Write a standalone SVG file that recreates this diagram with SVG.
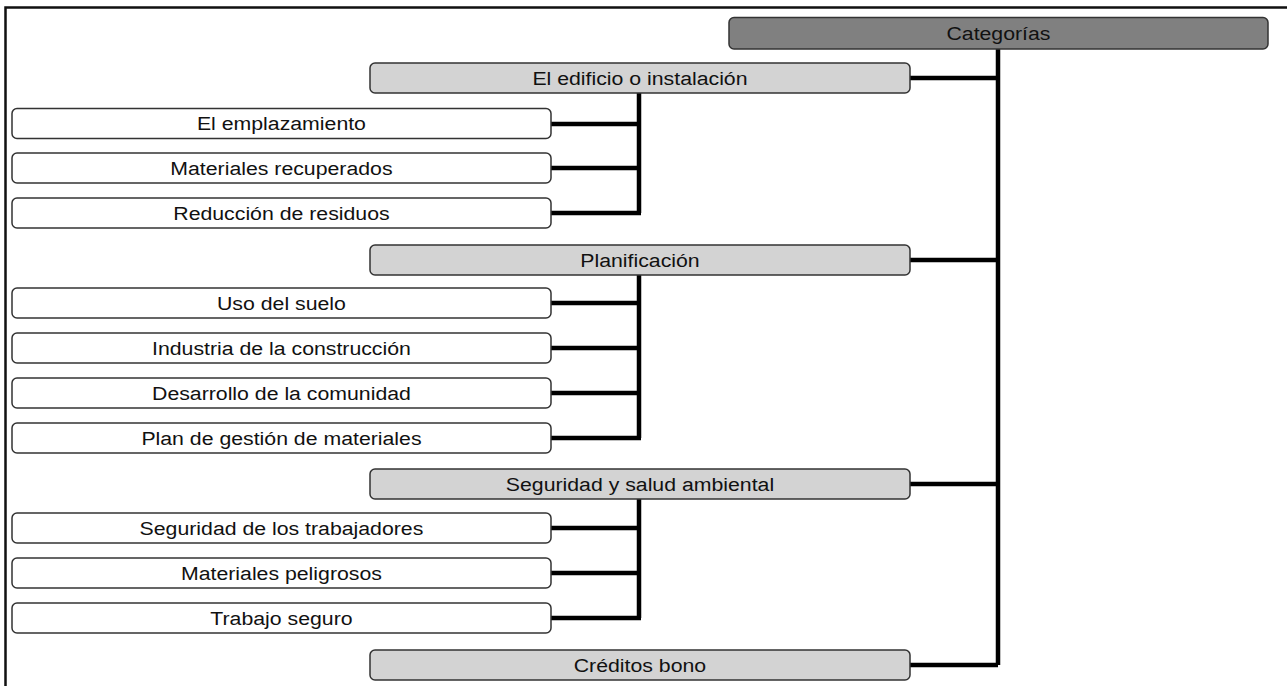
<svg xmlns="http://www.w3.org/2000/svg" width="1288" height="686" viewBox="0 0 1288 686">
<style>
.frame{fill:none;stroke:#111;stroke-width:2.5}
.root{fill:#808080;stroke:#333;stroke-width:1.5}
.cat{fill:#d3d3d3;stroke:#333;stroke-width:1.5}
.leaf{fill:#fff;stroke:#333;stroke-width:1.5}
.conn{fill:none;stroke:#000;stroke-width:4.5}
text{font-family:"Liberation Sans",Arial,sans-serif;font-size:19px;fill:#111;text-anchor:middle}
</style>
<rect width="1288" height="686" fill="#fff"/>
<path class="frame" d="M5.5,690 V7.5 H1287"/>
<g id="connectors">
<path class="conn" d="M998,49 V665"/>
<path class="conn" d="M910,78 H998 M910,260 H998 M910,484 H998 M910,665 H998"/>
<path class="conn" d="M639,93 V213 M551,124 H641 M551,168 H641 M551,213 H641"/>
<path class="conn" d="M639,275 V438 M551,303 H641 M551,348 H641 M551,393 H641 M551,438 H641"/>
<path class="conn" d="M639,499 V618 M551,528 H641 M551,573 H641 M551,618 H641"/>
</g>
<g id="n-categorias"><rect class="root" x="729" y="17.5" width="539" height="31.5" rx="5"/><text transform="scale(1.12,1)" x="891.5" y="40">Categorías</text></g>
<g id="n-edificio"><rect class="cat" x="370" y="63" width="540" height="30" rx="5"/><text transform="scale(1.12,1)" x="571.4" y="85">El edificio o instalación</text></g>
<g id="n-emplazamiento"><rect class="leaf" x="12" y="108.5" width="539" height="30" rx="5"/><text transform="scale(1.12,1)" x="251.3" y="130.5">El emplazamiento</text></g>
<g id="n-materiales-rec"><rect class="leaf" x="12" y="153" width="539" height="30" rx="5"/><text transform="scale(1.12,1)" x="251.3" y="175">Materiales recuperados</text></g>
<g id="n-reduccion"><rect class="leaf" x="12" y="198" width="539" height="30" rx="5"/><text transform="scale(1.12,1)" x="251.3" y="220">Reducción de residuos</text></g>
<g id="n-planificacion"><rect class="cat" x="370" y="245" width="540" height="30" rx="5"/><text transform="scale(1.12,1)" x="571.4" y="267">Planificación</text></g>
<g id="n-uso-suelo"><rect class="leaf" x="12" y="288" width="539" height="30" rx="5"/><text transform="scale(1.12,1)" x="251.3" y="310">Uso del suelo</text></g>
<g id="n-industria"><rect class="leaf" x="12" y="333" width="539" height="30" rx="5"/><text transform="scale(1.12,1)" x="251.3" y="355">Industria de la construcción</text></g>
<g id="n-desarrollo"><rect class="leaf" x="12" y="378" width="539" height="30" rx="5"/><text transform="scale(1.12,1)" x="251.3" y="400">Desarrollo de la comunidad</text></g>
<g id="n-plan-gestion"><rect class="leaf" x="12" y="423" width="539" height="30" rx="5"/><text transform="scale(1.12,1)" x="251.3" y="445">Plan de gestión de materiales</text></g>
<g id="n-seguridad"><rect class="cat" x="370" y="469" width="540" height="30" rx="5"/><text transform="scale(1.12,1)" x="571.4" y="491">Seguridad y salud ambiental</text></g>
<g id="n-trabajadores"><rect class="leaf" x="12" y="513" width="539" height="30" rx="5"/><text transform="scale(1.12,1)" x="251.3" y="535">Seguridad de los trabajadores</text></g>
<g id="n-peligrosos"><rect class="leaf" x="12" y="558" width="539" height="30" rx="5"/><text transform="scale(1.12,1)" x="251.3" y="580">Materiales peligrosos</text></g>
<g id="n-trabajo-seguro"><rect class="leaf" x="12" y="603" width="539" height="30" rx="5"/><text transform="scale(1.12,1)" x="251.3" y="625">Trabajo seguro</text></g>
<g id="n-creditos"><rect class="cat" x="370" y="650" width="540" height="30" rx="5"/><text transform="scale(1.12,1)" x="571.4" y="672">Créditos bono</text></g>
</svg>
